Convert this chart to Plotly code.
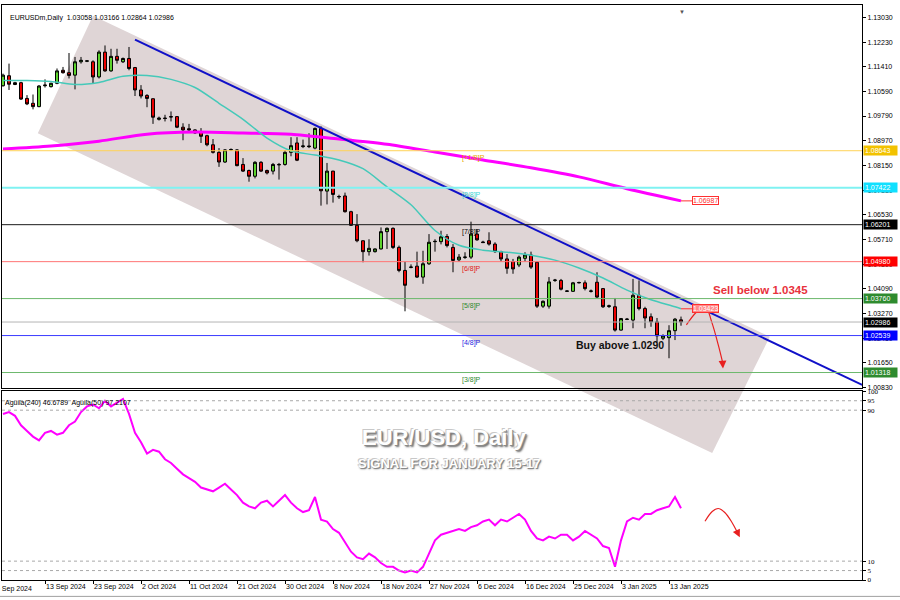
import plotly.graph_objects as go

# daily bars, MT4 style (Sunday bars included): index 0 = 5 Sep 2024 ... 113 = 15 Jan 2025
opens = [1.1079, 1.1112, 1.1083, 1.1089, 1.1037, 1.1021, 1.1010, 1.1079, 1.1076, 1.1087,
         1.1130, 1.1122, 1.1114, 1.1158, 1.1160, 1.1158, 1.1108, 1.1190, 1.1128, 1.1176,
         1.1158, 1.1169, 1.1139, 1.1065, 1.1047, 1.1036, 1.0968, 1.0972, 1.0977, 1.0977,
         1.0942, 1.0937, 1.0933, 1.0925, 1.0914, 1.0884, 1.0859, 1.0827, 1.0867, 1.0867,
         1.0819, 1.0799, 1.0780, 1.0826, 1.0799, 1.0797, 1.0819, 1.0819, 1.0859, 1.0890,
         1.0878, 1.0880, 1.0873, 1.0938, 1.0731, 1.0797, 1.0712, 1.0715, 1.0663, 1.0618,
         1.0567, 1.0531, 1.0531, 1.0540, 1.0597, 1.0608, 1.0545, 1.0469, 1.0479, 1.0483,
         1.0447, 1.0491, 1.0564, 1.0564, 1.0581, 1.0545, 1.0504, 1.0512, 1.0513, 1.0589,
         1.0563, 1.0567, 1.0556, 1.0531, 1.0507, 1.0498, 1.0487, 1.0509, 1.0520, 1.0496,
         1.0351, 1.0351, 1.0436, 1.0436, 1.0400, 1.0400, 1.0428, 1.0428, 1.0400, 1.0430,
         1.0409, 1.0350, 1.0349, 1.0272, 1.0307, 1.0305, 1.0387, 1.0343, 1.0316, 1.0299,
         1.0245, 1.0247, 1.0270, 1.03058]
highs = [1.1119, 1.1152, 1.1092, 1.1092, 1.1048, 1.1050, 1.1081, 1.1100, 1.1089, 1.1136,
         1.1141, 1.1187, 1.1174, 1.1174, 1.1163, 1.1163, 1.1196, 1.1212, 1.1201, 1.1201,
         1.1172, 1.1207, 1.1141, 1.1081, 1.1051, 1.1037, 1.0977, 1.0983, 1.0994, 1.0979,
         1.0955, 1.0953, 1.0935, 1.0939, 1.0917, 1.0903, 1.0873, 1.0870, 1.0872, 1.0870,
         1.0840, 1.0802, 1.0830, 1.0830, 1.0802, 1.0824, 1.0824, 1.0866, 1.0909, 1.0909,
         1.0901, 1.0922, 1.0941, 1.0945, 1.0824, 1.0798, 1.0719, 1.0726, 1.0666, 1.0655,
         1.0568, 1.0572, 1.0542, 1.0611, 1.0611, 1.0611, 1.0551, 1.0498, 1.0489, 1.0531,
         1.0534, 1.0589, 1.0572, 1.0600, 1.0589, 1.0556, 1.0523, 1.0529, 1.0630, 1.0605,
         1.0567, 1.0595, 1.0562, 1.0534, 1.0523, 1.0507, 1.0518, 1.0529, 1.0531, 1.0498,
         1.0370, 1.0447, 1.0441, 1.0441, 1.0403, 1.0431, 1.0432, 1.0436, 1.0406, 1.0463,
         1.0411, 1.0356, 1.0378, 1.0312, 1.0312, 1.0441, 1.0436, 1.0349, 1.0327, 1.0312,
         1.0258, 1.0288, 1.0312, 1.03166]
lows = [1.1076, 1.1065, 1.1081, 1.1032, 1.1015, 1.1001, 1.1008, 1.1073, 1.1073, 1.1084,
        1.1119, 1.1103, 1.1067, 1.1152, 1.1157, 1.1087, 1.1103, 1.1125, 1.1125, 1.1152,
        1.1154, 1.1130, 1.1045, 1.1037, 1.1008, 1.0953, 1.0964, 1.0961, 1.0961, 1.0939,
        1.0899, 1.0925, 1.0920, 1.0890, 1.0879, 1.0855, 1.0811, 1.0824, 1.0865, 1.0813,
        1.0794, 1.0762, 1.0773, 1.0794, 1.0786, 1.0786, 1.0769, 1.0815, 1.0846, 1.0830,
        1.0873, 1.0873, 1.0869, 1.0683, 1.0687, 1.0693, 1.0705, 1.0660, 1.0616, 1.0562,
        1.0496, 1.0518, 1.0528, 1.0538, 1.0540, 1.0540, 1.0463, 1.0334, 1.0476, 1.0444,
        1.0425, 1.0487, 1.0531, 1.0555, 1.0545, 1.0463, 1.0498, 1.0507, 1.0507, 1.0567,
        1.0560, 1.0551, 1.0527, 1.0498, 1.0458, 1.0458, 1.0480, 1.0498, 1.0474, 1.0345,
        1.0345, 1.0343, 1.0431, 1.0403, 1.0398, 1.0398, 1.0426, 1.0403, 1.0396, 1.0378,
        1.0345, 1.0345, 1.0267, 1.0270, 1.0305, 1.0278, 1.0337, 1.0278, 1.0283, 1.0231,
        1.0239, 1.0179, 1.0239, 1.02864]
closes = [1.1114, 1.1084, 1.1089, 1.1035, 1.1019, 1.1010, 1.1078, 1.1081, 1.1087, 1.1128,
          1.1122, 1.1113, 1.1158, 1.1163, 1.1161, 1.1108, 1.1190, 1.1128, 1.1176, 1.1163,
          1.1169, 1.1136, 1.1065, 1.1045, 1.1037, 1.0975, 1.0972, 1.0971, 1.0976, 1.0942,
          1.0933, 1.0933, 1.0923, 1.0912, 1.0884, 1.0859, 1.0827, 1.0867, 1.0868, 1.0815,
          1.0797, 1.0780, 1.0826, 1.0797, 1.0791, 1.0819, 1.0818, 1.0859, 1.0881, 1.0833,
          1.0880, 1.0878, 1.0938, 1.0732, 1.0797, 1.0720, 1.0713, 1.0663, 1.0618, 1.0567,
          1.0531, 1.0542, 1.0540, 1.0597, 1.0608, 1.0545, 1.0469, 1.0420, 1.0480, 1.0447,
          1.0491, 1.0562, 1.0565, 1.0580, 1.0551, 1.0502, 1.0513, 1.0513, 1.0589, 1.0570,
          1.0561, 1.0556, 1.0531, 1.0507, 1.0476, 1.0474, 1.0513, 1.0520, 1.0480, 1.0351,
          1.0367, 1.0431, 1.0437, 1.0407, 1.0401, 1.0428, 1.0429, 1.0409, 1.0401, 1.0381,
          1.0349, 1.0352, 1.0272, 1.0310, 1.0308, 1.0387, 1.0343, 1.0312, 1.0299, 1.0253,
          1.0253, 1.0270, 1.0308, 1.02986]
bars = list(range(len(opens)))

# short moving average (turquoise)
fast_ma_x = [0, 4, 8, 12, 16, 20, 24, 28, 32, 36, 40, 44, 48, 52, 56, 60, 64, 68, 72, 76,
             80, 84, 88, 92, 96, 100, 104, 108, 112, 113]
fast_ma_y = [1.1096, 1.1096, 1.1093, 1.1083, 1.1090, 1.1110, 1.1113, 1.1100, 1.1073, 1.1021,
             1.0968, 1.0906, 1.0864, 1.0850, 1.0834, 1.0805, 1.0745, 1.0686, 1.0601, 1.0552,
             1.0536, 1.0529, 1.0519, 1.0503, 1.0477, 1.0444, 1.0404, 1.0372, 1.0349, 1.03423]

# long moving average (magenta)
slow_ma_x = [0, 8, 16, 24, 32, 40, 48, 56, 64, 72, 80, 88, 96, 104, 113]
slow_ma_y = [1.0870, 1.0880, 1.0896, 1.0919, 1.0926, 1.0923, 1.0919, 1.0903, 1.0886, 1.0860,
             1.0834, 1.0808, 1.0778, 1.0739, 1.06987]

# Aguila oscillator, one value per bar
aguila = [88, 89, 87, 82, 79, 76, 74, 78, 79, 77, 78, 82, 84, 89, 92, 93, 91, 95, 92, 94,
          96, 88, 78, 73, 67, 69, 68, 64, 62, 59, 56, 54, 52, 49, 48, 47, 49, 51, 48, 45,
          41, 39, 38, 41, 42, 39, 42, 45, 41, 38, 36, 37, 44, 32, 31, 27, 25, 20, 15, 12,
          11, 14, 12, 9, 7, 7, 5, 4, 5, 4, 7, 14, 21, 24, 25, 26, 27, 26, 28, 29,
          31, 32, 29, 32, 31, 33, 35, 32, 26, 22, 21, 23, 22, 24, 24, 21, 23, 26, 24, 22,
          18, 17, 7, 21, 31, 33, 32, 35, 35, 37, 38, 39, 44, 38]

date_ticks = [-1, 7, 15, 23, 31, 39, 47, 55, 63, 71, 79, 87, 95, 103, 111]
date_labels = ['5 Sep 2024', '13 Sep 2024', '23 Sep 2024', '2 Oct 2024', '11 Oct 2024',
               '21 Oct 2024', '30 Oct 2024', '8 Nov 2024', '18 Nov 2024', '27 Nov 2024',
               '6 Dec 2024', '16 Dec 2024', '25 Dec 2024', '3 Jan 2025', '13 Jan 2025']

price_ticks = [1.13030, 1.12230, 1.11410, 1.10590, 1.09790, 1.08970, 1.08150, 1.07330,
               1.06530, 1.05710, 1.04890, 1.04090, 1.03270, 1.02450, 1.01650, 1.00830]

murrey_levels = [1.08643, 1.07422, 1.06201, 1.04980, 1.03760, 1.02539, 1.01318]
murrey_names = ['[+1/8]P', '[8/8]P', '[7/8]P', '[6/8]P', '[5/8]P', '[4/8]P', '[3/8]P']
murrey_line_colors = ['#ffd257', '#7ff2f2', '#1a1a1a', '#ff7575', '#6cb86c', '#3b3bff', '#6cb86c']
murrey_line_widths = [1, 2, 1, 1, 1, 1, 1]
murrey_text_colors = ['#e8a900', '#3cd6d6', '#000000', '#e02020', '#2f8a2f', '#1f1fe0', '#2f8a2f']
last_close = 1.02986

tag_levels = [1.08643, 1.07422, 1.06201, 1.04980, 1.03760, 1.02986, 1.02539, 1.01318]
tag_colors = ['#f2c200', '#10e0ff', '#000000', '#ff0000', '#2e8b2e', '#000000', '#0000ff', '#2e8b2e']

# drawn objects (bar index, price)
channel_x = [15.0, 127.8, 118.2, 5.8]
channel_y = [1.1310, 1.0250, 0.9866, 1.0922]
trend_x = [22, 143.2]
trend_y = [1.1231, 1.0091]
sell_arrow_x = [113.9, 115.5, 117.0, 118.1, 119.2, 120.0]
sell_arrow_y = [1.0289, 1.0330, 1.0353, 1.0300, 1.0224, 1.0160]
osc_arrow_x = [117.0, 118.2, 119.2, 120.3, 121.5, 122.3]
osc_arrow_y = [31.1, 36.3, 37.9, 35.8, 30.5, 25.8]

XR = [-0.1667, 143.1667]
YR = [1.00796, 1.13456]
MAIN_BOTTOM = 0.33333
IND_TOP = 0.32815
FONT = 'Liberation Sans'


def paper_xy(xs, ys):
    px = [(x - XR[0]) / (XR[1] - XR[0]) for x in xs]
    py = [MAIN_BOTTOM + (y - YR[0]) / (YR[1] - YR[0]) * (1 - MAIN_BOTTOM) for y in ys]
    return px, py


fig = go.Figure()

fig.add_trace(go.Candlestick(
    x=bars, open=opens, high=highs, low=lows, close=closes,
    increasing=dict(fillcolor='#5fd82e', line=dict(color='black', width=1)),
    decreasing=dict(fillcolor='#f00000', line=dict(color='black', width=1)),
    whiskerwidth=0, hoverinfo='skip', showlegend=False, xaxis='x', yaxis='y'))

fig.add_trace(go.Scatter(x=slow_ma_x, y=slow_ma_y, mode='lines', xaxis='x', yaxis='y',
                         line=dict(color='#ff00ff', width=3, shape='spline', smoothing=0.8),
                         hoverinfo='skip', showlegend=False))
fig.add_trace(go.Scatter(x=fast_ma_x, y=fast_ma_y, mode='lines', xaxis='x', yaxis='y',
                         line=dict(color='#45c9b9', width=1.5, shape='spline', smoothing=0.8),
                         hoverinfo='skip', showlegend=False))
fig.add_trace(go.Scatter(x=trend_x, y=trend_y, mode='lines', xaxis='x', yaxis='y',
                         line=dict(color='#1010c8', width=2), hoverinfo='skip', showlegend=False))
fig.add_trace(go.Scatter(x=sell_arrow_x, y=sell_arrow_y, mode='lines', xaxis='x', yaxis='y',
                         line=dict(color='#e82020', width=1.2, shape='spline'),
                         hoverinfo='skip', showlegend=False))

fig.add_trace(go.Scatter(x=bars, y=aguila, mode='lines', xaxis='x2', yaxis='y2',
                         line=dict(color='#ff00ff', width=2), hoverinfo='skip', showlegend=False))
fig.add_trace(go.Scatter(x=osc_arrow_x, y=osc_arrow_y, mode='lines', xaxis='x2', yaxis='y2',
                         line=dict(color='#e82020', width=1.2, shape='spline'),
                         hoverinfo='skip', showlegend=False))

shapes = []
cx, cy = paper_xy(channel_x, channel_y)
path = 'M ' + ' L '.join(f'{a:.5f},{b:.5f}' for a, b in zip(cx, cy)) + ' Z'
shapes.append(dict(type='path', xref='paper', yref='paper', path=path, layer='below',
                   fillcolor='rgb(223,213,214)', line=dict(width=0)))

for lvl, col, w in zip(murrey_levels, murrey_line_colors, murrey_line_widths):
    shapes.append(dict(type='line', xref='x domain', yref='y', x0=0, x1=1, y0=lvl, y1=lvl,
                       line=dict(color=col, width=w)))
shapes.append(dict(type='line', xref='x domain', yref='y', x0=0, x1=1, y0=last_close, y1=last_close,
                   line=dict(color='#b4b4b4', width=1)))

for lvl in [95, 90, 10, 5]:
    shapes.append(dict(type='line', xref='x2 domain', yref='y2', x0=0, x1=1, y0=lvl, y1=lvl,
                       line=dict(color='#a8a8a8', width=1, dash='dot')))

shapes.append(dict(type='line', xref='paper', yref='paper', x0=-0.01, x1=1.05,
                   y0=-0.0285, y1=-0.0285, line=dict(color='#a0a0a0', width=1)))

ann = []
for lvl, name, col in zip(murrey_levels, murrey_names, murrey_text_colors):
    ann.append(dict(x=76.2, y=lvl, xref='x', yref='y', text=name, showarrow=False,
                    xanchor='left', yanchor='top', yshift=-1,
                    font=dict(family=FONT, size=7, color=col)))

for lvl, col in zip(tag_levels, tag_colors):
    ann.append(dict(x=1, y=lvl, xref='paper', yref='y', text=f'{lvl:.5f}', showarrow=False,
                    xanchor='left', xshift=1, bgcolor=col, borderpad=1, width=31, align='left',
                    font=dict(family=FONT, size=7, color='white')))

ann.append(dict(x=slow_ma_x[-1], y=slow_ma_y[-1], xref='x', yref='y', text=f'{slow_ma_y[-1]:.5f}',
                showarrow=True, arrowhead=0, arrowwidth=1, arrowcolor='#ff3030', ax=24, ay=0,
                bgcolor='white', bordercolor='#ff3030', borderwidth=1, borderpad=0,
                font=dict(family=FONT, size=7, color='#ff3030')))
ann.append(dict(x=fast_ma_x[-1], y=fast_ma_y[-1], xref='x', yref='y', text=f'{fast_ma_y[-1]:.5f}',
                showarrow=True, arrowhead=0, arrowwidth=1, arrowcolor='#ff3030', ax=24, ay=0,
                bgcolor='#ff8a8a', bordercolor='#ff3030', borderwidth=1, borderpad=0,
                font=dict(family=FONT, size=7, color='white')))

# arrow heads
ann.append(dict(x=120.0, y=1.0145, ax=119.9, ay=1.0175, xref='x', yref='y', axref='x', ayref='y',
                text='', showarrow=True, arrowhead=2, arrowsize=1.3, arrowwidth=1.2, arrowcolor='#e82020'))
ann.append(dict(x=122.8, y=22.6, ax=122.2, ay=26.5, xref='x2', yref='y2', axref='x2', ayref='y2',
                text='', showarrow=True, arrowhead=2, arrowsize=1.3, arrowwidth=1.2, arrowcolor='#e82020'))

ann.append(dict(x=126.2, y=1.0404, xref='x', yref='y', text='<b>Sell below 1.0345</b>', showarrow=False,
                font=dict(family=FONT, size=11.5, color='#e8323c')))
ann.append(dict(x=102.8, y=1.0224, xref='x', yref='y', text='<b>Buy above 1.0290</b>', showarrow=False,
                font=dict(family=FONT, size=10.5, color='#111111')))

ann.append(dict(x=0.007, y=0.982, xref='x domain', yref='y domain', xanchor='left',
                text='EURUSDm,Daily  1.03058 1.03166 1.02864 1.02986', showarrow=False,
                font=dict(family=FONT, size=7, color='black')))
ann.append(dict(x=0.001, y=0.968, xref='x2 domain', yref='y2 domain', xanchor='left',
                text='Aguila(240) 46.6789  Aguila(50) 97.2107', showarrow=False,
                font=dict(family=FONT, size=7, color='black')))
ann.append(dict(x=-0.0058, y=-0.005, xref='paper', yref='paper', xanchor='left', yanchor='top',
                text=date_labels[0], showarrow=False, xshift=-3,
                font=dict(family=FONT, size=7, color='black')))
ann.append(dict(x=0.7966, y=0.998, xref='x domain', yref='paper', text='▼', showarrow=False,
                font=dict(size=6, color='#555555')))

ann.append(dict(x=0.515, y=0.832, xref='paper', yref='y2 domain', text='<b>EUR/USD, Daily</b>',
                showarrow=False,
                font=dict(family=FONT, size=22, color='white',
                          shadow='1px 1px 0 #8a8a8a, -1px -1px 0 #c8c8c8, 2px 2px 2px #666666')))
ann.append(dict(x=0.5209, y=0.668, xref='paper', yref='y2 domain', text='<b>SIGNAL FOR JANUARY 15-17</b>',
                showarrow=False,
                font=dict(family=FONT, size=13, color='white',
                          shadow='1px 1px 0 #8a8a8a, -1px -1px 0 #c8c8c8, 1px 1px 2px #666666')))

axis_common = dict(showgrid=False, zeroline=False, showline=True, mirror=True,
                   linecolor='black', linewidth=1)

fig.update_layout(
    width=900, height=600,
    margin=dict(l=2, r=38, t=1, b=20, pad=0),
    paper_bgcolor='white', plot_bgcolor='rgba(0,0,0,0)',
    showlegend=False, boxgap=0.3,
    shapes=shapes, annotations=ann,
    xaxis=dict(domain=[0, 1], range=XR, anchor='y', showticklabels=False, ticks='',
               rangeslider=dict(visible=False), **axis_common),
    yaxis=dict(domain=[MAIN_BOTTOM, 1], range=YR, anchor='x', side='right',
               tickvals=price_ticks, ticktext=[f'{v:.5f}' for v in price_ticks],
               ticks='outside', ticklen=3, tickcolor='black',
               tickfont=dict(family=FONT, size=7, color='black'), **axis_common),
    xaxis2=dict(domain=[0, 1], range=XR, anchor='y2', tickvals=date_ticks[1:], ticktext=date_labels[1:],
                ticks='outside', ticklen=3, tickcolor='black', ticklabelposition='outside right',
                tickangle=0, tickfont=dict(family=FONT, size=7, color='black'), **axis_common),
    yaxis2=dict(domain=[0, IND_TOP], range=[0, 100], anchor='x2', side='right',
                tickvals=[0, 5, 10, 90, 95, 100], ticktext=['0', '5', '10', '90', '95', '100'],
                ticks='outside', ticklen=3, tickcolor='black',
                tickfont=dict(family='Liberation Serif', size=7, color='black'), **axis_common),
)

# the page body has a default margin; pin the chart to the window corner
fig.write_html("out.html", config={'displayModeBar': False},
               post_script="document.body.style.margin='0';")
